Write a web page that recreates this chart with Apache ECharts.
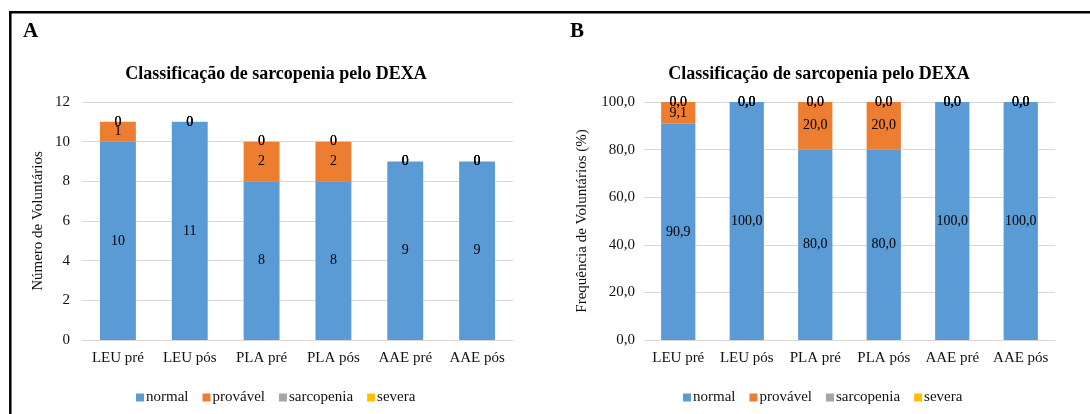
<!DOCTYPE html>
<html>
<head>
<meta charset="utf-8">
<script src="https://cdn.jsdelivr.net/npm/echarts@6/dist/echarts.min.js"></script>
<style>
  html, body { margin: 0; padding: 0; background: #fff; }
  #chart { width: 1090px; height: 414px; }
</style>
</head>
<body>
<div id="chart"></div>
<script>
// Groups and sarcopenia categories (DEXA classification)
const categories = ['LEU pré', 'LEU pós', 'PLA pré', 'PLA pós', 'AAE pré', 'AAE pós'];
const seriesNames = ['normal', 'provável', 'sarcopenia', 'severa'];

// Panel A: number of volunteers
const countNormal     = [10, 11, 8, 8, 9, 9];
const countProvavel   = [1, 0, 2, 2, 0, 0];
const countSarcopenia = [0, 0, 0, 0, 0, 0];
const countSevera     = [0, 0, 0, 0, 0, 0];

// Panel B: frequency of volunteers (%)
const pctNormal     = [90.9, 100.0, 80.0, 80.0, 100.0, 100.0];
const pctProvavel   = [9.1, 0.0, 20.0, 20.0, 0.0, 0.0];
const pctSarcopenia = [0.0, 0.0, 0.0, 0.0, 0.0, 0.0];
const pctSevera     = [0.0, 0.0, 0.0, 0.0, 0.0, 0.0];

const yTicksA = [0, 2, 4, 6, 8, 10, 12];
const yTicksB = [0, 20, 40, 60, 80, 100];

const colors = ['#5B9BD5', '#ED7D31', '#A5A5A5', '#FFC000'];
const FONT = "'Liberation Serif', 'Times New Roman', serif";
const comma = v => Number(v).toFixed(1).replace('.', ',');

const chart = echarts.init(document.getElementById('chart'), null, { renderer: 'canvas' });

function makeSeries(values, idx, axisIdx, stackName, fmt) {
  return {
    name: seriesNames[idx],
    type: 'bar',
    stack: stackName,
    xAxisIndex: axisIdx,
    yAxisIndex: axisIdx,
    barWidth: '50%',
    data: values,
    itemStyle: { color: colors[idx] },
    label: {
      show: true,
      position: 'inside',
      color: '#000',
      fontFamily: FONT,
      fontSize: 14,
      formatter: p => fmt(p.value)
    },
    emphasis: { disabled: true },
    animation: false
  };
}

const axisLabelStyle = { color: '#111', fontFamily: FONT, fontSize: 15 };

const option = {
  animation: false,
  color: colors,
  title: [
    { text: 'Classificação de sarcopenia pelo DEXA', left: 271, top: 60, textAlign: 'center',
      textStyle: { fontFamily: FONT, fontSize: 18, fontWeight: 'bold', color: '#000' } },
    { text: 'Classificação de sarcopenia pelo DEXA', left: 814, top: 60, textAlign: 'center',
      textStyle: { fontFamily: FONT, fontSize: 18, fontWeight: 'bold', color: '#000' } }
  ],
  legend: [
    { data: seriesNames, left: 131, top: 385, itemWidth: 8, itemHeight: 8, itemGap: 14,
      icon: 'rect', textStyle: { fontFamily: FONT, fontSize: 15, color: '#111', padding: [0, 0, 0, -3] } },
    { data: seriesNames, left: 678, top: 385, itemWidth: 8, itemHeight: 8, itemGap: 14,
      icon: 'rect', textStyle: { fontFamily: FONT, fontSize: 15, color: '#111', padding: [0, 0, 0, -3] } }
  ],
  grid: [
    { left: 82, right: 577, top: 102, bottom: 74 },
    { left: 644, right: 35, top: 102, bottom: 74 }
  ],
  xAxis: [0, 1].map(i => ({
    type: 'category',
    gridIndex: i,
    data: categories,
    axisLine: { show: true, lineStyle: { color: '#D9D9D9', width: 1 } },
    axisTick: { show: false },
    axisLabel: Object.assign({ margin: 11, interval: 0 }, axisLabelStyle)
  })),
  yAxis: [
    {
      type: 'value', gridIndex: 0,
      min: yTicksA[0], max: yTicksA[yTicksA.length - 1], interval: 2,
      name: 'Número de Voluntários', nameLocation: 'middle', nameGap: 36, nameRotate: 90,
      nameTextStyle: { fontFamily: FONT, fontSize: 15, color: '#111' },
      axisLine: { show: false }, axisTick: { show: false },
      splitLine: { lineStyle: { color: '#D9D9D9' } },
      axisLabel: Object.assign({ margin: 12 }, axisLabelStyle)
    },
    {
      type: 'value', gridIndex: 1,
      min: yTicksB[0], max: yTicksB[yTicksB.length - 1], interval: 20,
      name: 'Frequência de Voluntários (%)', nameLocation: 'middle', nameGap: 54, nameRotate: 90,
      nameTextStyle: { fontFamily: FONT, fontSize: 15, color: '#111' },
      axisLine: { show: false }, axisTick: { show: false },
      splitLine: { lineStyle: { color: '#D9D9D9' } },
      axisLabel: Object.assign({ margin: 9, formatter: v => comma(v) }, axisLabelStyle)
    }
  ],
  graphic: [
    // frame lines around the figure
    { type: 'line', shape: { x1: 9, y1: 12.2, x2: 1090, y2: 12.2 }, style: { stroke: '#000', lineWidth: 2.5 } },
    { type: 'line', shape: { x1: 10.3, y1: 11, x2: 10.3, y2: 414 }, style: { stroke: '#000', lineWidth: 2.5 } },
    // panel letters
    { type: 'text', left: 23, top: 21, style: { text: 'A', fontFamily: FONT, fontSize: 21, fontWeight: 'bold', fill: '#000' } },
    { type: 'text', left: 570, top: 21, style: { text: 'B', fontFamily: FONT, fontSize: 21, fontWeight: 'bold', fill: '#000' } }
  ],
  series: [
    makeSeries(countNormal, 0, 0, 'a', v => String(v)),
    makeSeries(countProvavel, 1, 0, 'a', v => String(v)),
    makeSeries(countSarcopenia, 2, 0, 'a', v => String(v)),
    makeSeries(countSevera, 3, 0, 'a', v => String(v)),
    makeSeries(pctNormal, 0, 1, 'b', comma),
    makeSeries(pctProvavel, 1, 1, 'b', comma),
    makeSeries(pctSarcopenia, 2, 1, 'b', comma),
    makeSeries(pctSevera, 3, 1, 'b', comma)
  ]
};

chart.setOption(option);
</script>
</body>
</html>
